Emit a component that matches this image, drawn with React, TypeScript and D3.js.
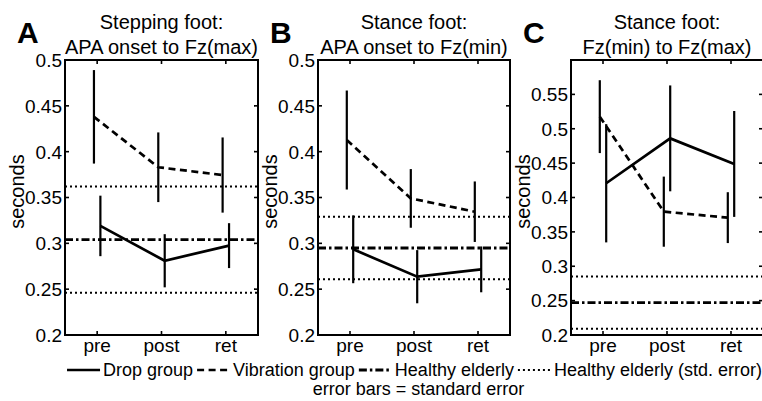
import React, { useEffect, useRef } from 'react'
import * as d3 from 'd3'

const categories = ['pre', 'post', 'ret']
const panelLetters = ['A', 'B', 'C']
const titleTop = ['Stepping foot:', 'Stance foot:', 'Stance foot:']
const titleBottom = ['APA onset to Fz(max)', 'APA onset to Fz(min)', 'Fz(min) to Fz(max)']

// group means and standard errors, per panel
const dropA = [0.319, 0.281, 0.2975]
const dropSeA = [0.033, 0.029, 0.0245]
const vibA = [0.438, 0.383, 0.3745]
const vibSeA = [0.051, 0.038, 0.041]

const dropB = [0.2935, 0.2636, 0.2716]
const dropSeB = [0.037, 0.029, 0.025]
const vibB = [0.4127, 0.349, 0.3345]
const vibSeB = [0.054, 0.032, 0.033]

const dropC = [0.4207, 0.486, 0.4488]
const dropSeC = [0.086, 0.077, 0.077]
const vibC = [0.5176, 0.3794, 0.3707]
const vibSeC = [0.053, 0.051, 0.037]

// healthy elderly reference (mean, std. error)
const healthyMean = [0.304, 0.2949, 0.247]
const healthySe = [0.058, 0.034, 0.038]

const yDomains = [[0.2, 0.5], [0.2, 0.5], [0.2, 0.6]]
const yTickValues = [
  [0.2, 0.25, 0.3, 0.35, 0.4, 0.45, 0.5],
  [0.2, 0.25, 0.3, 0.35, 0.4, 0.45, 0.5],
  [0.2, 0.25, 0.3, 0.35, 0.4, 0.45, 0.5, 0.55],
]

const legendLabels = ['Drop group', 'Vibration group', 'Healthy elderly', 'Healthy elderly (std. error)']

const W = 762
const H = 401
const FONT = '"Liberation Sans", Arial, Helvetica, sans-serif'
const DASH = '7,4.5'
const DASHDOT = '8,3,2.5,3'
const DOT = '2,3'

const panels = [
  { drop: dropA, dropSe: dropSeA, vib: vibA, vibSe: vibSeA },
  { drop: dropB, dropSe: dropSeB, vib: vibB, vibSe: vibSeB },
  { drop: dropC, dropSe: dropSeC, vib: vibC, vibSe: vibSeC },
]
const lefts = [65, 318, 571]
const rights = [258, 510, 763]
const top = 60
const bottom = 335

export default function App() {
  const ref = useRef<SVGSVGElement>(null)

  useEffect(() => {
    if (!ref.current) return
    const svg = d3.select(ref.current)
    svg.selectAll('*').remove()
    svg.append('rect').attr('width', W).attr('height', H).attr('fill', '#fff')

    panels.forEach((p, i) => {
      const x = d3.scaleLinear().domain([0.5, 3.5]).range([lefts[i], rights[i]])
      const y = d3.scaleLinear().domain(yDomains[i]).range([bottom, top])
      const g = svg.append('g')

      const hline = (v: number, dash: string, w: number) =>
        g.append('line')
          .attr('x1', x(0.5)).attr('x2', x(3.5))
          .attr('y1', y(v)).attr('y2', y(v))
          .attr('stroke', '#000').attr('stroke-width', w)
          .attr('stroke-dasharray', dash)

      hline(healthyMean[i] + healthySe[i], DOT, 2)
      hline(healthyMean[i] - healthySe[i], DOT, 2)
      hline(healthyMean[i], DASHDOT, 2.8)

      // series: vibration slightly left, drop slightly right
      const series = [
        { m: p.vib, se: p.vibSe, off: -0.05, dash: DASH },
        { m: p.drop, se: p.dropSe, off: 0.05, dash: null },
      ]
      series.forEach(s => {
        const line = d3.line<number>()
          .x((_, k) => x(k + 1 + s.off))
          .y(d => y(d))
        g.append('path')
          .attr('d', line(s.m))
          .attr('fill', 'none')
          .attr('stroke', '#000')
          .attr('stroke-width', 2.7)
          .attr('stroke-dasharray', s.dash)
        g.selectAll(null)
          .data(s.m)
          .enter().append('line')
          .attr('x1', (_, k) => x(k + 1 + s.off))
          .attr('x2', (_, k) => x(k + 1 + s.off))
          .attr('y1', (d, k) => y(d - s.se[k]))
          .attr('y2', (d, k) => y(d + s.se[k]))
          .attr('stroke', '#000')
          .attr('stroke-width', 2.2)
      })

      // box
      g.append('rect')
        .attr('x', lefts[i]).attr('y', top)
        .attr('width', rights[i] - lefts[i]).attr('height', bottom - top)
        .attr('fill', 'none').attr('stroke', '#000').attr('stroke-width', 2)

      // ticks inside
      yTickValues[i].forEach(t => {
        g.append('line').attr('x1', lefts[i]).attr('x2', lefts[i] + 4)
          .attr('y1', y(t)).attr('y2', y(t)).attr('stroke', '#000').attr('stroke-width', 1.6)
        g.append('line').attr('x1', rights[i]).attr('x2', rights[i] - 4)
          .attr('y1', y(t)).attr('y2', y(t)).attr('stroke', '#000').attr('stroke-width', 1.6)
        g.append('text')
          .attr('x', lefts[i] - 3).attr('y', y(t)).attr('dy', '0.36em')
          .attr('text-anchor', 'end')
          .style('font-family', FONT).style('font-size', '19px')
          .text(String(t))
      })
      categories.forEach((c, k) => {
        g.append('line').attr('x1', x(k + 1)).attr('x2', x(k + 1))
          .attr('y1', bottom).attr('y2', bottom - 4).attr('stroke', '#000').attr('stroke-width', 1.6)
        g.append('line').attr('x1', x(k + 1)).attr('x2', x(k + 1))
          .attr('y1', top).attr('y2', top + 4).attr('stroke', '#000').attr('stroke-width', 1.6)
        g.append('text')
          .attr('x', x(k + 1)).attr('y', 352)
          .attr('text-anchor', 'middle')
          .style('font-family', FONT).style('font-size', '19px')
          .text(c)
      })

      // y label
      const cy = (top + bottom) / 2 - 6
      g.append('text')
        .attr('transform', `translate(${lefts[i] - 41},${cy}) rotate(-90)`)
        .attr('text-anchor', 'middle')
        .style('font-family', FONT).style('font-size', '20px')
        .text('seconds')

      // titles
      const cx = (lefts[i] + rights[i]) / 2
      g.append('text').attr('x', cx).attr('y', 29).attr('text-anchor', 'middle')
        .style('font-family', FONT).style('font-size', '20px').text(titleTop[i])
      g.append('text').attr('x', cx).attr('y', 54).attr('text-anchor', 'middle')
        .style('font-family', FONT).style('font-size', '20px').text(titleBottom[i])

      // panel letter
      g.append('text').attr('x', lefts[i] - 48).attr('y', 43)
        .style('font-family', FONT).style('font-size', '30px').style('font-weight', 'bold')
        .text(panelLetters[i])
    })

    // legend, laid out left-to-right and right-aligned to the figure edge
    const styles = [
      { dash: null, w: 2.7 },
      { dash: DASH, w: 2.7 },
      { dash: DASHDOT, w: 2.8 },
      { dash: DOT, w: 2 },
    ]
    const lg = svg.append('g')
    const texts = legendLabels.map(l =>
      lg.append('text').attr('y', 376)
        .style('font-family', FONT).style('font-size', '18px').text(l))
    const widths = texts.map(t => (t.node() as SVGTextElement).getComputedTextLength())
    const sample = 33
    const gapIn = 3
    const gapOut = 4
    const total = d3.sum(widths) + legendLabels.length * (sample + gapIn) + (legendLabels.length - 1) * gapOut
    let cur = W - total
    texts.forEach((t, k) => {
      lg.append('line')
        .attr('x1', cur).attr('x2', cur + sample)
        .attr('y1', 370).attr('y2', 370)
        .attr('stroke', '#000').attr('stroke-width', styles[k].w)
        .attr('stroke-dasharray', styles[k].dash)
      t.attr('x', cur + sample + gapIn)
      cur += sample + gapIn + widths[k] + gapOut
    })
    lg.append('text').attr('x', 418.5).attr('y', 395).attr('text-anchor', 'middle')
      .style('font-family', FONT).style('font-size', '18px')
      .text('error bars = standard error')
  }, [])

  return (
    <svg ref={ref} width={W} height={H}
      style={{ position: 'absolute', left: 0, top: 0, background: '#fff' }} />
  )
}
